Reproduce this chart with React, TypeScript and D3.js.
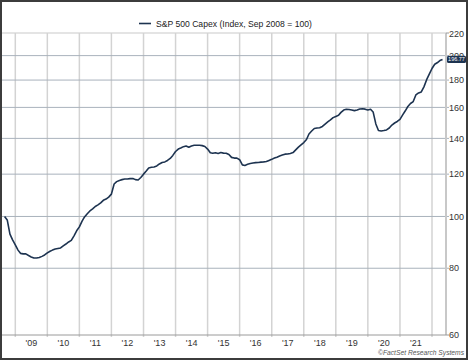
import React from "react";
import * as d3 from "d3";

const startYear = 2008;
const startMonth = 8; // September (0-based)
const values2008 = [100, 98.5, 92.7, 90.4];
const values2009 = [88.5, 86.5, 85.3, 85.1, 85.1, 84.5, 84.0, 83.6, 83.6, 83.8, 84.2, 84.7];
const values2010 = [85.5, 86.1, 86.5, 86.9, 87.1, 87.3, 88.1, 88.8, 89.6, 90.2, 92.0, 94.0];
const values2011 = [95.6, 98.0, 99.8, 101.2, 102.4, 103.3, 104.4, 105.1, 106.0, 107.2, 107.8, 108.7];
const values2012 = [110.1, 115.0, 116.2, 116.8, 117.2, 117.5, 117.5, 117.7, 117.8, 117.2, 117.0, 118.3];
const values2013 = [120.0, 121.6, 123.2, 123.6, 123.8, 124.3, 125.4, 126.2, 126.5, 127.3, 128.4, 130.1];
const values2014 = [132.3, 133.7, 134.3, 135.1, 135.5, 134.8, 135.5, 135.9, 135.9, 135.9, 135.7, 135.2];
const values2015 = [133.7, 131.6, 131.3, 131.6, 131.2, 131.7, 131.4, 131.3, 130.6, 129.0, 128.6, 128.6];
const values2016 = [127.7, 124.9, 124.6, 125.2, 125.6, 125.9, 126.1, 126.2, 126.4, 126.5, 126.7, 127.3];
const values2017 = [127.9, 128.6, 129.1, 129.8, 130.3, 130.8, 130.9, 131.2, 131.7, 133.2, 134.8, 136.1];
const values2018 = [137.5, 139.3, 142.7, 144.5, 146.1, 146.4, 146.6, 147.4, 148.9, 150.3, 151.6, 153.1];
const values2019 = [153.9, 154.6, 156.6, 158.2, 158.7, 158.6, 158.2, 157.8, 158.2, 158.9, 159.1, 158.8];
const values2020 = [158.2, 158.7, 156.9, 149.0, 144.8, 144.5, 144.8, 145.2, 146.4, 148.3, 149.6, 150.6];
const values2021 = [152.0, 154.9, 157.5, 160.6, 162.7, 164.1, 168.8, 170.3, 171.0, 174.8, 180.3, 184.7];
const values2022 = [189.2, 192.7, 193.9, 195.8, 196.77];

const yTicks = [60, 80, 100, 120, 140, 160, 180, 200, 220];
const yearLabels = ["'09", "'10", "'11", "'12", "'13", "'14", "'15", "'16", "'17", "'18", "'19", "'20", "'21"];
const gridYears = [2009, 2010, 2011, 2012, 2013, 2014, 2015, 2016, 2017, 2018, 2019, 2020, 2021, 2022];
const legendText = "S&P 500 Capex (Index, Sep 2008 = 100)";
const lastLabel = "196.77";

const W = 468, H = 360;
const L = 2, R = 446, T = 33, B = 335;

export default function App() {
  const all = [
    ...values2008, ...values2009, ...values2010, ...values2011, ...values2012,
    ...values2013, ...values2014, ...values2015, ...values2016, ...values2017,
    ...values2018, ...values2019, ...values2020, ...values2021, ...values2022,
  ];
  const data = all.map((v, i) => ({ d: new Date(startYear, startMonth + i, 1), v }));

  const x = d3.scaleTime()
    .domain([new Date(2009, 0, 1), new Date(2022, 0, 1)])
    .range([15.3, 432]);
  const y = d3.scaleLog().domain([60, 220]).range([B, T + 0.5]);

  const line = d3.line<{ d: Date; v: number }>()
    .x((p) => x(p.d))
    .y((p) => y(p.v))
    .curve(d3.curveLinear);

  const last = data[data.length - 1];
  const font = "Arial, 'Liberation Sans', sans-serif";

  return (
    <div style={{ position: "fixed", left: 0, top: 0 }}>
      <svg width={W} height={H} style={{ display: "block" }}>
        <rect x={0} y={0} width={W} height={H} fill="#ffffff" />
        {/* plot top band */}
        <line x1={L} x2={R} y1={T} y2={T} stroke="#e4e4e4" strokeWidth={2} />
        {/* vertical grid */}
        {gridYears.map((yr) => (
          <line key={yr} x1={x(new Date(yr, 0, 1))} x2={x(new Date(yr, 0, 1))} y1={T} y2={B + 2}
            stroke="#d3d3d3" strokeWidth={1.5} />
        ))}
        {/* horizontal grid */}
        {yTicks.filter((t) => t > 60 && t < 220).map((t) => (
          <line key={t} x1={L} x2={449} y1={y(t)} y2={y(t)} stroke="#a9b2bc" strokeWidth={1} />
        ))}
        {/* right axis */}
        <line x1={R} x2={R} y1={T} y2={B} stroke="#c8c8c8" strokeWidth={2} />
        {/* bottom axis */}
        <line x1={L} x2={449} y1={B} y2={B} stroke="#9a9a9a" strokeWidth={1} />
        <line x1={R} x2={449} y1={T} y2={T} stroke="#9a9a9a" strokeWidth={1} />
        {/* y labels */}
        {yTicks.map((t) => (
          <text key={t} x={449} y={y(t)} dy="0.35em" fontSize={9} fontFamily={font} fill="#333">{t}</text>
        ))}
        {/* year labels */}
        {yearLabels.map((lab, i) => {
          const cx = (x(new Date(2009 + i, 0, 1)) + x(new Date(2010 + i, 0, 1))) / 2;
          return (
            <text key={lab} x={cx} y={346} textAnchor="middle" fontSize={9} fontFamily={font} fill="#333">{lab}</text>
          );
        })}
        {/* series */}
        <path d={line(data) || ""} fill="none" stroke="#1d3350" strokeWidth={1.6} strokeLinejoin="round" />
        {/* last value tag */}
        <rect x={447} y={y(last.v) - 3.6} width={19} height={7.2} rx={1.5} fill="#1d3350" />
        <text x={456.5} y={y(last.v)} dy="0.35em" textAnchor="middle" fontSize={5.5} fontFamily={font} fill="#ffffff">{lastLabel}</text>
        {/* legend */}
        <line x1={139} x2={151} y1={23.5} y2={23.5} stroke="#1d3350" strokeWidth={1.6} />
        <text x={156} y={23.5} dy="0.35em" fontSize={8.6} fontFamily={font} fill="#222">{legendText}</text>
        {/* credit */}
        <text x={464} y={355} textAnchor="end" fontSize={6.7} fontStyle="italic" fontFamily={font} fill="#555">©FactSet Research Systems</text>
        {/* outer border */}
        <rect x={1} y={1} width={W - 2} height={H - 2} fill="none" stroke="#3c3c3c" strokeWidth={2} />
      </svg>
    </div>
  );
}
